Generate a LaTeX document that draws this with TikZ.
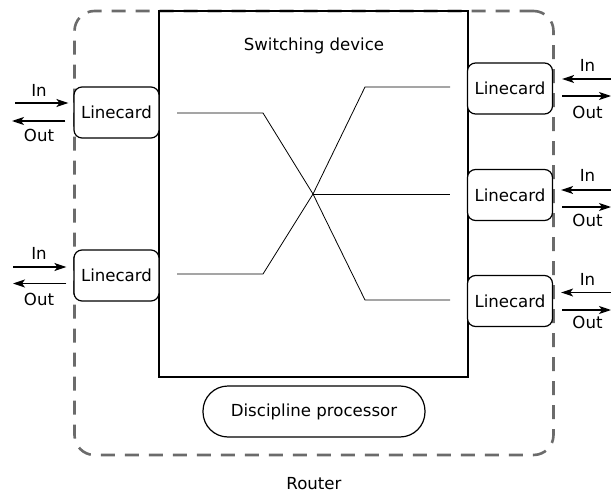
\documentclass[tikz,border=0pt]{standalone}
\usepackage{fontspec}
\setmainfont{DejaVu Sans}
\usetikzlibrary{arrows.meta}
\begin{document}
\begin{tikzpicture}[x=1pt,y=-1pt,
  font=\fontsize{16.6}{19.5}\selectfont,
  card/.style={draw,line width=1.2pt,rounded corners=8pt,minimum width=85pt,minimum height=51pt,inner sep=0pt,fill=white},
  arr/.style={line width=1.3pt,-{Stealth[length=12pt,width=8pt,inset=3pt]}},
  wire/.style={line width=0.8pt},
  lbl/.style={inner sep=0pt}
]
\useasboundingbox (0,0) rectangle (611,495);
% router outline
\node[draw=black!58,line width=2.6pt,dash pattern=on 14pt off 10pt,rounded corners=20pt,
  minimum width=479pt,minimum height=444pt,inner sep=0pt] (router) at (314,233) {};
% switching device
\node[draw,line width=2.4pt,minimum width=309pt,minimum height=366pt,inner sep=0pt] (sw) at (313.5,194) {};
\node[lbl] (swl) at (314,46) {Switching device};
% discipline processor
\node[draw,line width=1.2pt,rounded corners=25pt,minimum width=222pt,minimum height=51pt,inner sep=0pt] (dp) at (314,411.5) {Discipline processor};
\node[lbl] (rl) at (314,484) {Router};
% linecards
\node[card] (L1) at (116.5,112.5) {Linecard};
\node[card] (L2) at (116.5,275.5) {Linecard};
\node[card] (R1) at (510,88.5) {Linecard};
\node[card] (R2) at (510,195) {Linecard};
\node[card] (R3) at (510,301) {Linecard};
% internal wires
\coordinate (x) at (313,194);
\coordinate (a1) at (177,113); \coordinate (a2) at (263,113);
\coordinate (b1) at (177,274); \coordinate (b2) at (263,274);
\coordinate (c1) at (365,87); \coordinate (c2) at (450,87);
\coordinate (d2) at (450,194);
\coordinate (e1) at (365,300); \coordinate (e2) at (450,300);
\draw[wire] (a1) -- (a2) -- (x) -- (e1) -- (e2);
\draw[wire] (b1) -- (b2) -- (x) -- (c1) -- (c2);
\draw[wire] (x) -- (d2);
% left arrows
\coordinate (li1) at (15,103); \coordinate (lo1) at (12,121);
\draw[arr] (li1) -- ([xshift=-5pt]li1 -| L1.west);
\draw[arr] ([xshift=-8pt]lo1 -| L1.west) -- (lo1);
\node[lbl] (lin1) at (39,90) {In};
\node[lbl] (lout1) at (39,135) {Out};
\coordinate (li2) at (13,267); \coordinate (lo2) at (13,283.5);
\draw[arr] (li2) -- ([xshift=-7pt]li2 -| L2.west);
\draw[arr] ([xshift=-7pt]lo2 -| L2.west) -- (lo2);
\node[lbl] (lin2) at (39,253) {In};
\node[lbl] (lout2) at (39,299) {Out};
% right arrows
\coordinate (ri1) at (614,79); \coordinate (ro1) at (611,96);
\draw[arr] (ri1) -- ([xshift=9pt]ri1 -| R1.east);
\draw[arr] ([xshift=9pt]ro1 -| R1.east) -- (ro1);
\node[lbl] (rin1) at (587.5,65) {In};
\node[lbl] (rout1) at (587.5,112) {Out};
\coordinate (ri2) at (614,190); \coordinate (ro2) at (611,207);
\draw[arr] (ri2) -- ([xshift=8pt]ri2 -| R2.east);
\draw[arr] ([xshift=9pt]ro2 -| R2.east) -- (ro2);
\node[lbl] (rin2) at (587.5,175) {In};
\node[lbl] (rout2) at (587.5,220.5) {Out};
\coordinate (ri3) at (614,292.5); \coordinate (ro3) at (611,310);
\draw[arr] (ri3) -- ([xshift=8pt]ri3 -| R3.east);
\draw[arr] ([xshift=9pt]ro3 -| R3.east) -- (ro3);
\node[lbl] (rin3) at (587.5,279) {In};
\node[lbl] (rout3) at (587.5,322.5) {Out};
\end{tikzpicture}
\end{document}
